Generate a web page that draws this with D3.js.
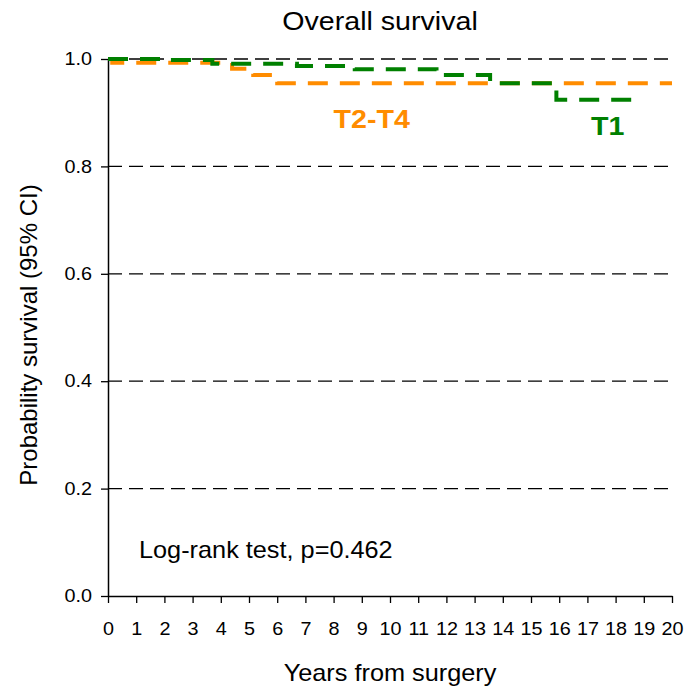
<html>
<head>
<meta charset="utf-8">
<script src="https://d3js.org/d3.v7.min.js"></script>
<style>
  body { margin: 0; background: #fff; }
  text { font-family: "Liberation Sans", Arial, sans-serif; fill: #000; }
</style>
</head>
<body>
<div id="chart"></div>
<script>
// step points: [years, survival]
var t2t4Years = [0, 0.15, 4.4, 5.15, 6.0, 20];
var t2t4Surv  = [1.0, 0.993, 0.982, 0.970, 0.955, 0.955];

var t1Years = [0, 1.9, 3.7, 6.7, 8.75, 11.65, 13.55, 15.9, 18.7];
var t1Surv  = [1.0, 0.998, 0.991, 0.987, 0.981, 0.970, 0.955, 0.924, 0.924];

var xTicks = d3.range(0, 21);
var yTicks = [0, 0.2, 0.4, 0.6, 0.8, 1.0];

var W = 687, H = 686;
var margin = {top: 59, right: 15, bottom: 90, left: 108},
    width = W - margin.left - margin.right,
    height = H - margin.top - margin.bottom;
var sx = 1.1; // the original figure's text is a little wide

var svg = d3.select("#chart").append("svg")
    .attr("width", W).attr("height", H);
var g = svg.append("g")
    .attr("transform", "translate(" + margin.left + "," + margin.top + ")");

var x = d3.scaleLinear().domain([0, 20]).range([0, width]);
var y = d3.scaleLinear().domain([0, 1]).range([height, 0]);

// put a wide text at (px, py)
function label(parent, px, py, str, size, anchor) {
  return parent.append("text")
    .attr("transform", "translate(" + px + "," + py + ") scale(" + sx + ",1)")
    .attr("text-anchor", anchor || "start")
    .attr("font-size", size)
    .text(str);
}

// dashed grid lines
g.selectAll(".grid").data(yTicks.filter(function(d) { return d > 0; }))
  .enter().append("line")
    .attr("x1", 0).attr("x2", width)
    .attr("y1", function(d) { return y(d); })
    .attr("y2", function(d) { return y(d); })
    .attr("stroke", "#000").attr("stroke-width", 1.3)
    .attr("stroke-dasharray", "14,7");

// axes
var xAxis = g.append("g")
    .attr("transform", "translate(0," + height + ")")
    .call(d3.axisBottom(x).tickValues(xTicks).tickSize(7).tickSizeOuter(0).tickPadding(19));
var yAxis = g.append("g")
    .call(d3.axisLeft(y).tickValues(yTicks).tickSize(7).tickSizeOuter(0).tickPadding(7.5)
      .tickFormat(d3.format(".1f")));
[xAxis, yAxis].forEach(function(a) {
  a.select(".domain").attr("stroke", "#000").attr("stroke-width", 1.5);
  a.selectAll(".tick line").attr("stroke", "#000").attr("stroke-width", 1.3);
  a.selectAll(".tick text").attr("font-size", 18)
    .attr("font-family", "Liberation Sans, Arial, sans-serif").attr("fill", "#000")
    .attr("transform", "scale(" + sx + ",1)");
});
xAxis.selectAll(".tick text").attr("x", 0);

// survival curves
var line = d3.line()
  .x(function(d) { return x(d[0]); })
  .y(function(d) { return y(d[1]); })
  .curve(d3.curveStepAfter);

function series(years, surv) {
  return years.map(function(v, i) { return [v, surv[i]]; });
}

g.append("path")
  .datum(series(t2t4Years, t2t4Surv))
  .attr("d", line)
  .attr("fill", "none").attr("stroke", "#FF8C00").attr("stroke-width", 4)
  .attr("stroke-dasharray", "20,12");

g.append("path")
  .datum(series(t1Years, t1Surv))
  .attr("d", line)
  .attr("fill", "none").attr("stroke", "#008000").attr("stroke-width", 4)
  .attr("stroke-dasharray", "20,12");

// curve labels
label(g, x(9.35), 128 - margin.top, "T2-T4", 26, "middle")
  .attr("font-weight", "bold").style("fill", "#FF8C00");
label(g, x(17.72), 135 - margin.top, "T1", 26, "middle")
  .attr("font-weight", "bold").style("fill", "#008000");

label(g, 139 - margin.left, 558 - margin.top, "Log-rank test, p=0.462", 23);

// titles
label(svg, 380, 30, "Overall survival", 26, "middle");
label(svg, 390, 681, "Years from surgery", 23, "middle");
svg.append("text")
  .attr("transform", "translate(37,335) rotate(-90)")
  .attr("text-anchor", "middle").attr("font-size", 24)
  .text("Probability survival (95% CI)");
</script>
</body>
</html>
